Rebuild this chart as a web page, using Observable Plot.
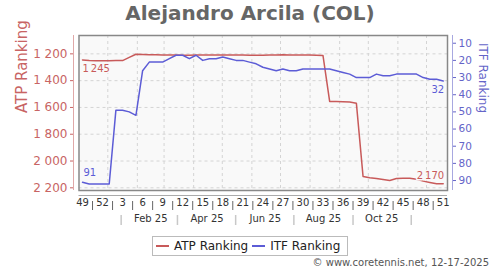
<!DOCTYPE html>
<html><head><meta charset="utf-8">
<script src="https://cdn.jsdelivr.net/npm/d3@7"></script>
<script src="https://cdn.jsdelivr.net/npm/@observablehq/plot@0.6"></script>
<style>
body{margin:0;background:#fff;font-family:"DejaVu Sans",sans-serif;}
#wrap{position:relative;width:500px;height:270px;overflow:hidden;background:#fff;}
#title{position:absolute;top:1px;left:0;width:500px;text-align:center;font-size:20px;font-weight:bold;color:#666;line-height:24px;}
.layer{position:absolute;left:0;top:28px;}
#legend{position:absolute;left:152px;top:236px;width:196px;height:20px;box-sizing:border-box;border:1px solid #bbb;background:#fff;font-size:12px;color:#222;line-height:18px;white-space:nowrap;padding-left:3px;}
#legend .sw{display:inline-block;width:13px;height:2px;vertical-align:middle;margin-right:5px;margin-top:-2px;}
#legend .it{margin-right:4px;}
#caption{position:absolute;right:11px;top:256px;font-size:10px;color:#555;line-height:14px;}
</style></head>
<body><div id="wrap"><div id="title"></div><div id="p1" class="layer"></div><div id="p2" class="layer"></div><div id="legend"></div><div id="caption"></div></div>
<script>
const titleText = "Alejandro Arcila (COL)";
const captionText = "\u00a9 www.coretennis.net, 12-17-2025";
const seriesNames = ["ATP Ranking", "ITF Ranking"];
const seriesColors = ["#c85a5a", "#5c5cd6"];
const weeks = ["2024-W49","2024-W50","2024-W51","2024-W52",
  "2025-W01","2025-W02","2025-W03","2025-W04","2025-W05","2025-W06","2025-W07","2025-W08","2025-W09","2025-W10",
  "2025-W11","2025-W12","2025-W13","2025-W14","2025-W15","2025-W16","2025-W17","2025-W18","2025-W19","2025-W20",
  "2025-W21","2025-W22","2025-W23","2025-W24","2025-W25","2025-W26","2025-W27","2025-W28","2025-W29","2025-W30",
  "2025-W31","2025-W32","2025-W33","2025-W34","2025-W35","2025-W36","2025-W37","2025-W38","2025-W39","2025-W40",
  "2025-W41","2025-W42","2025-W43","2025-W44","2025-W45","2025-W46","2025-W47","2025-W48","2025-W49","2025-W50","2025-W51"];
const atp = [1245,1250,1252,1252,1251,1250,1250,1226,1203,1205,1206,1207,1208,1208,
  1209,1210,1210,1208,1208,1208,1209,1209,1208,1208,1209,1210,1210,1210,1208,1208,
  1207,1208,1208,1208,1209,1210,1212,1555,1556,1558,1560,1568,2115,2125,2130,2138,
  2145,2130,2128,2128,2136,2150,2160,2170,2170];
const itf = [91,92,92,92,92,49,49,50,52,26,21,21,21,19,17,17,19,17,20,19,19,18,19,20,20,
  21,22,24,25,26,25,26,26,25,25,25,25,25,26,27,28,30,30,30,28,29,29,28,28,28,28,30,31,31,32];
const atpTicks = [1200,1400,1600,1800,2000,2200];
const itfTicks = [10,20,30,40,50,60,70,80,90];
const weekTickLabels = ["2024-W49","2024-W52","2025-W03","2025-W06","2025-W09","2025-W12","2025-W15","2025-W18",
  "2025-W21","2025-W24","2025-W27","2025-W30","2025-W33","2025-W36","2025-W39","2025-W42","2025-W45","2025-W48","2025-W51"];
const monthLabels = ["Feb 25","Apr 25","Jun 25","Aug 25","Oct 25"];
const monthLabelDates = ["2025-02-15","2025-04-15","2025-06-15","2025-08-15","2025-10-15"];
const monthSepDates = ["2025-01-15","2025-03-15","2025-05-15","2025-07-15","2025-09-15","2025-11-15"];
const monthGridDates = ["2025-01-01","2025-02-01","2025-03-01","2025-04-01","2025-05-01","2025-06-01",
  "2025-07-01","2025-08-01","2025-09-01","2025-10-01","2025-11-01","2025-12-01"];

function weekMid(s){
  const [y,w] = s.split("-W").map(Number);
  const jan4 = Date.UTC(y,0,4);
  const dow = (new Date(jan4).getUTCDay()+6)%7;
  return new Date(jan4 - dow*864e5 + (w-1)*7*864e5 + 3.5*864e5);
}
const fmt = d3.formatLocale({decimal:".",thousands:" ",grouping:[3],currency:["",""]}).format(",");
const fmtLbl = d3.formatLocale({decimal:".",thousands:"\u2009",grouping:[3],currency:["",""]}).format(",");

const atpData = weeks.map((w,i)=>({date:weekMid(w), v:atp[i]}));
const itfData = weeks.map((w,i)=>({date:weekMid(w), v:itf[i]}));
const tickDates = weekTickLabels.map(weekMid);
const weekSeps = tickDates.slice(1).map((d,i)=>new Date((+d + +tickDates[i])/2));

const W=500, H=200, MT=7, MB=38, ML=78.5, MR=53;
const xDomain = [new Date(Date.UTC(2024,11,1,20)), new Date(Date.UTC(2025,11,23,0))];
const base = {width:W,height:H,marginTop:MT,marginBottom:MB,marginLeft:ML,marginRight:MR,
  style:{fontFamily:"DejaVu Sans",background:"transparent",overflow:"visible"}};

const p1 = Plot.plot({...base,
  x:{type:"utc",domain:xDomain,axis:null},
  y:{domain:[2220,1063],axis:null},
  marks:[
    Plot.frame({fill:"#f9f9f9",stroke:null}),
    Plot.gridX(monthGridDates.map(d=>new Date(d)),{stroke:"#d4d4d4",strokeOpacity:1,strokeDasharray:"3,3"}),
    Plot.gridY(atpTicks,{stroke:"#d4d4d4",strokeOpacity:1,strokeDasharray:"3,3"}),
    Plot.ruleY([2220],{stroke:"#aaa",dy:5}),
    Plot.ruleX(weekSeps,{stroke:"#666",strokeWidth:1,dy:166,insetBottom:146}),
    Plot.text(weekTickLabels,{x:d=>weekMid(d),text:d=>String(+d.split("-W")[1]),frameAnchor:"bottom",dy:15,fontSize:10,fill:"#333"}),
    Plot.ruleX(monthSepDates.map(d=>new Date(d)),{stroke:"#c8c8c8",strokeWidth:1.5,dy:180,insetBottom:145}),
    Plot.text(monthLabels,{x:(d,i)=>new Date(monthLabelDates[i]),frameAnchor:"bottom",dy:31,fontSize:10,fill:"#333"}),
    Plot.line(atpData,{x:"date",y:"v",stroke:seriesColors[0],strokeWidth:1.5}),
    Plot.frame({stroke:"#888",strokeWidth:1.5}),
    Plot.ruleX([xDomain[0]],{stroke:"#e0a8a8",dx:-5.5}),
    Plot.axisY(atpTicks,{anchor:"left",tickSize:3,tickPadding:3,dx:-5.5,tickFormat:fmt,color:"#c86464",fontSize:12,label:null}),
    Plot.text([seriesNames[0]],{frameAnchor:"left",rotate:-90,dx:-57,fontSize:15,fill:"#c86464"}),
    Plot.text([atpData[0]],{x:"date",y:"v",text:d=>fmtLbl(d.v),textAnchor:"start",dy:9,fontSize:10,fill:"#c85a5a",stroke:"#f9f9f9",strokeWidth:3}),
    Plot.text([atpData[atpData.length-1]],{x:"date",y:"v",text:d=>fmtLbl(d.v),textAnchor:"end",dx:1,dy:-8,fontSize:10,fill:"#c85a5a",stroke:"#f9f9f9",strokeWidth:3})
  ]
});
const p2 = Plot.plot({...base,
  x:{type:"utc",domain:xDomain,axis:null},
  y:{domain:[95.8,5.5],axis:null},
  marks:[
    Plot.line(itfData,{x:"date",y:"v",stroke:seriesColors[1],strokeWidth:1.5}),
    Plot.ruleX([xDomain[1]],{stroke:"#a8a8e0",dx:5}),
    Plot.axisY(itfTicks,{anchor:"right",tickSize:3,tickPadding:3,dx:5,color:"#6464c8",fontSize:10.5,label:null}),
    Plot.text([seriesNames[1]],{frameAnchor:"right",rotate:90,dx:35,fontSize:12,fill:"#6464c8"}),
    Plot.text([itfData[0]],{x:"date",y:"v",text:d=>String(d.v),textAnchor:"start",dx:1,dy:-9,fontSize:10,fill:"#5c5cd6",stroke:"#f9f9f9",strokeWidth:3}),
    Plot.text([itfData[itfData.length-1]],{x:"date",y:"v",text:d=>String(d.v),textAnchor:"end",dx:1,dy:9,fontSize:10,fill:"#5c5cd6",stroke:"#f9f9f9",strokeWidth:3})
  ]
});
document.getElementById("p1").appendChild(p1);
document.getElementById("p2").appendChild(p2);
document.getElementById("title").textContent = titleText;
document.getElementById("caption").textContent = captionText;
const lg = document.getElementById("legend");
seriesNames.forEach((n,i)=>{
  const sw = document.createElement("span"); sw.className="sw"; sw.style.background=seriesColors[i];
  const t = document.createElement("span"); t.className="it"; t.textContent=n;
  lg.appendChild(sw); lg.appendChild(t);
});
</script>
</body></html>
